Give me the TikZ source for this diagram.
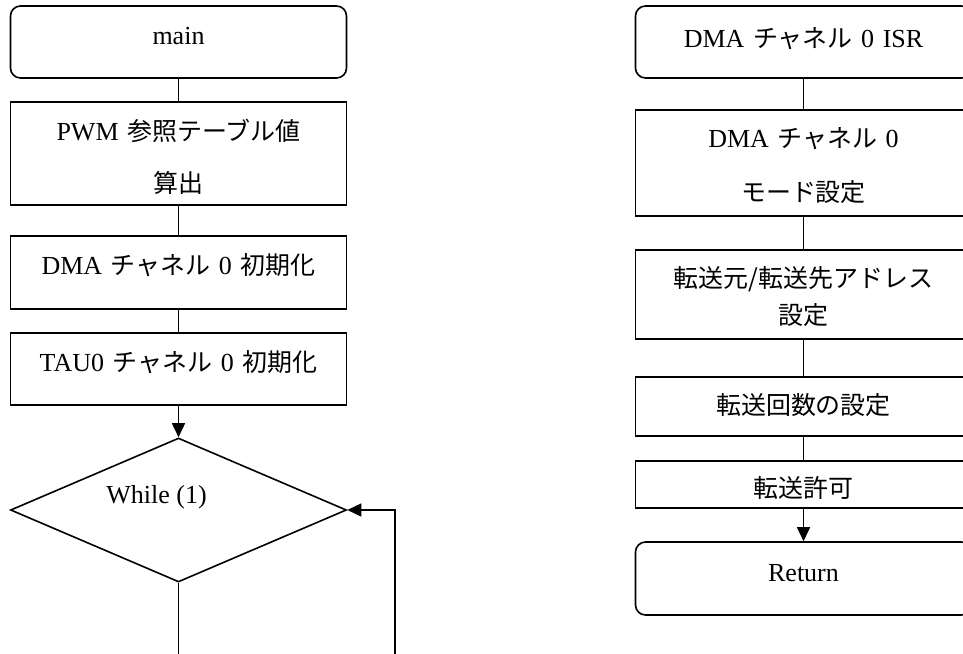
\documentclass[tikz,border=0pt]{standalone}
\usepackage{fontspec}
\setmainfont{Liberation Serif}
\newfontfamily\jp{Noto Sans CJK JP}[Scale=0.96]
\usetikzlibrary{shapes.geometric,arrows.meta}
\newcommand\gap{\hspace{0.33em}}
\newcommand\twol[3]{\vtop{\hsize=336pt\parindent=0pt\lineskiplimit=-100pt\centering\baselineskip=#3 #1\par\baselineskip=#3 #2\par}}
\begin{document}
\begin{tikzpicture}[x=1pt,y=-1pt,
  font=\fontsize{26}{30}\selectfont,
  box/.style={draw, line width=1.6pt, minimum width=336pt, inner sep=0pt, anchor=base},
  rbox/.style={box, rounded corners=10pt},
  con/.style={line width=1.6pt},
  arr/.style={con, -{Triangle[length=14pt,width=13pt]}}]
\useasboundingbox (0,0) rectangle (963,653);
\clip (0,0) rectangle (963,653);

% left column
\node[rbox, text height=38pt, text depth=34pt] (main) at (178.5,44) {main};
\node[box, text height=38pt, text depth=65pt] (pwm) at (178.5,140)
  {\twol{PWM\gap{\jp 参照テーブル値}}{{\jp 算出}}{52pt}};
\node[box, text height=38pt, text depth=35pt] (dma) at (178.5,274)
  {DMA\gap{\jp チャネル}\gap 0\gap{\jp 初期化}};
\node[box, text height=38pt, text depth=34pt] (tau) at (178.5,371)
  {TAU0\gap{\jp チャネル}\gap 0\gap{\jp 初期化}};
\node[draw, diamond, line width=1.6pt, minimum width=336pt, minimum height=144pt, inner sep=0pt] (wh) at (178.5,510) {};
\node[anchor=base] (wt) at (156.5,503) {While (1)};
\coordinate (lb) at (178.5,670);
\coordinate (rb) at (395,670);

\draw[con] (main) -- (pwm);
\draw[con] (pwm) -- (dma);
\draw[con] (dma) -- (tau);
\draw[arr] (tau) -- (wh);
\draw[con] (wh.south) -- (lb);
\draw[arr] (rb) |- (wh.east);

% right column
\node[rbox, text height=41pt, text depth=31pt] (isr) at (803.5,47)
  {DMA\gap{\jp チャネル}\gap 0\gap ISR};
\node[box, text height=37pt, text depth=69pt] (mode) at (803.5,147)
  {\twol{DMA\gap{\jp チャネル}\gap 0}{{\jp モード設定}}{54pt}};
\node[box, text height=37pt, text depth=52pt] (addr) at (803.5,287)
  {\twol{{\jp 転送元/転送先アドレス}}{{\jp 設定}}{37pt}};
\node[box, text height=37pt, text depth=22pt] (cnt) at (803.5,414)
  {{\jp 転送回数の設定}};
\node[box, text height=36pt, text depth=11pt] (en) at (803.5,497)
  {{\jp 転送許可}};
\node[rbox, text height=39pt, text depth=34pt] (ret) at (803.5,581)
  {Return};

\draw[con] (isr) -- (mode);
\draw[con] (mode) -- (addr);
\draw[con] (addr) -- (cnt);
\draw[con] (cnt) -- (en);
\draw[arr] (en) -- (ret);
\end{tikzpicture}
\end{document}
